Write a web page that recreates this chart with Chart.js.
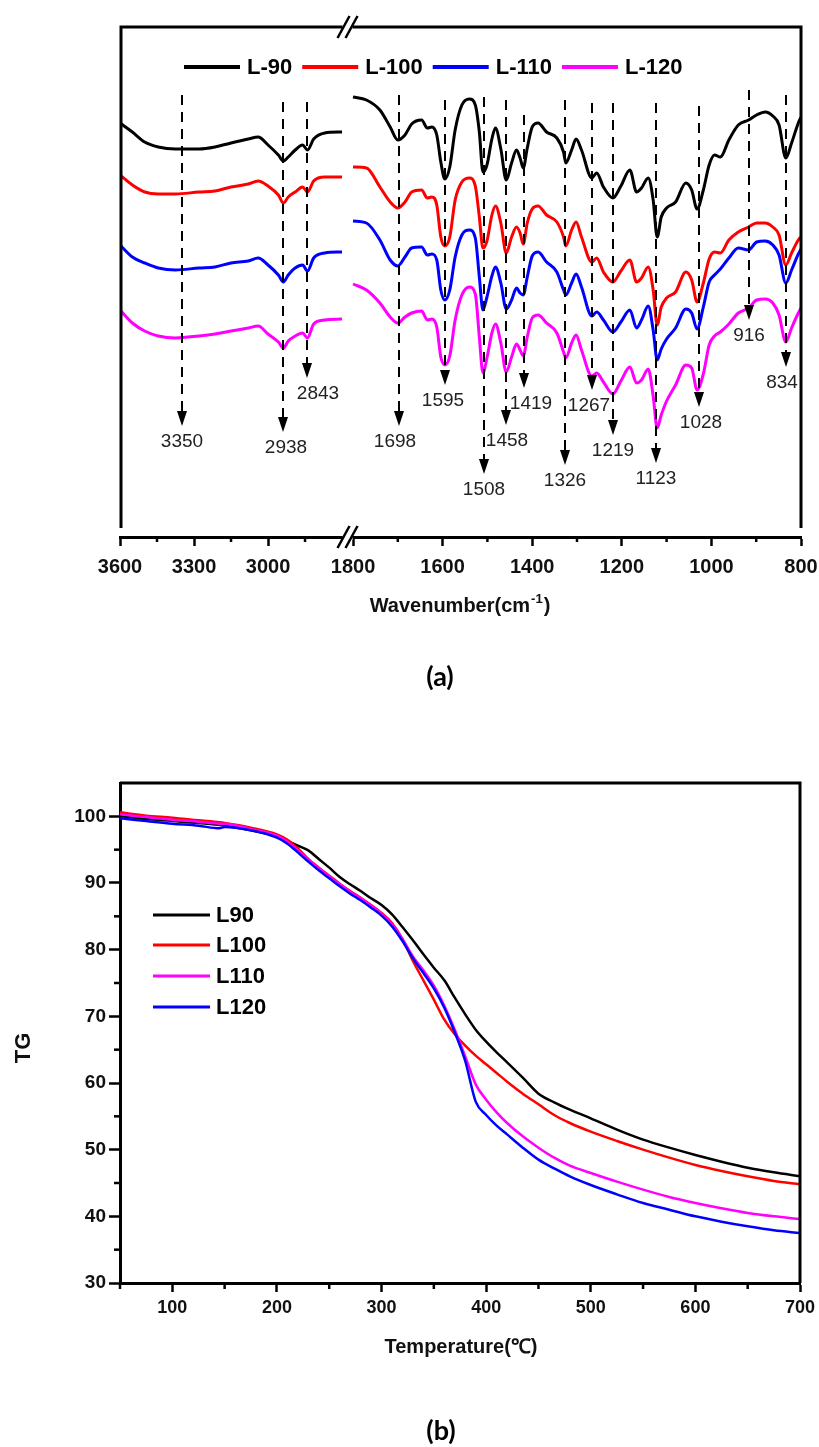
<!DOCTYPE html>
<html>
<head>
<meta charset="utf-8">
<script src="https://cdn.jsdelivr.net/npm/chart.js@4.4.1/dist/chart.umd.min.js"></script>
<style>
  html, body { margin: 0; padding: 0; background: #fff; overflow: hidden; }
  #wrapA { position: absolute; left: 0; top: 0; width: 819px; height: 720px; }
  #wrapB { position: absolute; left: 0; top: 720px; width: 819px; height: 727px; }
</style>
</head>
<body>
<div id="wrapA"><canvas id="ftirChart" width="819" height="720"></canvas></div>
<div id="wrapB"><canvas id="tgChart" width="819" height="727"></canvas></div>
<script>
// ---------- (a) FTIR spectra ----------
const ftirNames = ["L-90", "L-100", "L-110", "L-120"];
const ftirColors = ["#000000", "#ff0000", "#0000ff", "#ff00ff"];

// high wavenumber part (left of the axis break)
const wnHigh = [3600, 3550, 3500, 3445, 3375, 3280, 3215, 3150, 3080, 3040, 3000, 2958, 2938, 2918, 2890, 2860, 2840, 2815, 2770, 2700];
const l90High = [414, 405, 395, 390, 388, 388, 390, 394, 398, 400, 392, 382, 376, 380, 387, 392, 387, 398, 404, 405];
const l100High = [362, 352, 345, 343, 343, 345, 346, 350, 353, 356, 351, 342, 334, 340, 345, 350, 345, 356, 360, 360];
const l110High = [292, 280, 274, 269, 267, 269, 270, 274, 276, 279, 272, 262, 255, 262, 269, 272, 266, 279, 284, 285];
const l120High = [227, 214, 206, 201, 199, 201, 203, 206, 209, 211, 203, 195, 189, 196, 201, 204, 199, 213, 217, 218];

// fingerprint part (right of the axis break)
const wnLow = [1800, 1770, 1740, 1717, 1700, 1684, 1669, 1647, 1634, 1624, 1613, 1604, 1595, 1584, 1572, 1557, 1540, 1527, 1518, 1510,
  1501, 1490, 1482, 1470, 1458, 1446, 1435, 1427, 1420, 1411, 1400, 1387, 1368, 1345, 1330, 1325, 1312, 1302, 1290, 1267,
  1256, 1241, 1220, 1202, 1182, 1167, 1156, 1141, 1130, 1121, 1112, 1100, 1080, 1057, 1044, 1032, 1018, 1005, 993, 980,
  961, 940, 917, 899, 880, 863, 849, 834, 821, 806, 800];
const l90Low = [440, 437, 427, 410, 397, 402, 413, 417, 409, 410, 402, 375, 358, 370, 407, 432, 438, 432, 405, 365,
  372, 398, 409, 388, 357, 374, 387, 379, 369, 389, 410, 414, 405, 399, 385, 374, 387, 398, 387, 359,
  364, 350, 339, 351, 367, 345, 349, 359, 337, 300, 320, 329, 335, 354, 347, 328, 347, 372, 382, 380,
  397, 412, 417, 422, 425, 421, 412, 379, 394, 414, 420];
const l100Low = [370, 369, 350, 335, 329, 335, 345, 347, 339, 340, 332, 300, 291, 300, 337, 355, 359, 351, 320, 289,
  296, 322, 331, 314, 284, 300, 310, 304, 293, 314, 328, 331, 322, 315, 300, 291, 307, 315, 300, 275,
  279, 265, 255, 266, 277, 255, 259, 270, 247, 212, 230, 239, 245, 265, 257, 235, 254, 278, 285, 284,
  297, 305, 310, 314, 314, 310, 302, 272, 284, 297, 300];
const l110Low = [316, 314, 297, 277, 271, 280, 289, 290, 282, 283, 277, 247, 237, 247, 280, 302, 307, 299, 260, 227,
  240, 261, 270, 254, 228, 237, 249, 244, 242, 260, 281, 285, 275, 265, 247, 242, 254, 263, 250, 221,
  225, 217, 205, 215, 227, 209, 217, 231, 207, 177, 188, 198, 209, 228, 224, 208, 230, 255, 262, 268,
  279, 289, 287, 295, 296, 292, 282, 254, 267, 283, 288];
const l120Low = [253, 247, 234, 220, 214, 220, 224, 226, 217, 218, 210, 180, 172, 181, 217, 242, 250, 243, 200, 164,
  179, 204, 213, 194, 165, 180, 193, 187, 181, 200, 219, 222, 214, 204, 185, 179, 194, 202, 187, 161,
  164, 155, 143, 156, 170, 154, 157, 168, 141, 109, 122, 136, 152, 172, 169, 147, 163, 192, 201, 205,
  213, 224, 229, 237, 238, 234, 222, 195, 209, 224, 229];

const ftirTicks = [3600, 3300, 3000, 1800, 1600, 1400, 1200, 1000, 800];
const ftirMinorTicks = [3450, 3150, 2850, 1700, 1500, 1300, 1100, 900];

// marked bands: wavenumber, top of dashed line, arrow tip (same y units as the spectra)
const peakWn = [3350, 2938, 2843, 1698, 1595, 1508, 1458, 1419, 1326, 1267, 1219, 1123, 1028, 916, 834];
const peakTop = [442, 435, 435, 442, 437, 440, 437, 422, 437, 434, 434, 434, 431, 447, 442];
const peakTip = [111, 105, 159, 111, 152, 63, 112, 149, 72, 147, 102, 74, 130, 217, 170];
// small horizontal nudges of the band labels (px)
const peakLabelShift = [0, 3, 11, -4, -2, 0, 1, 7, 0, -3, 0, 0, 2, 0, -4];

// ---------- (b) TG curves ----------
const tgNames = ["L90", "L100", "L110", "L120"];
const tgColors = ["#000000", "#ff0000", "#ff00ff", "#0000ff"];
const tgTemp = [50, 75, 100, 125, 145, 150, 175, 200, 210, 220, 230, 240, 250, 260, 270, 280, 290, 300, 310, 320,
  330, 340, 350, 360, 370, 380, 390, 400, 410, 420, 435, 450, 465, 480, 500, 525, 550, 575, 600, 625, 650, 675, 700];
const tgL90 = [100.0, 99.6, 99.3, 99.0, 98.7, 98.6, 97.9, 97.0, 96.3, 95.6, 94.9, 93.6, 92.3, 90.9, 89.8, 88.8, 87.7, 86.7, 85.3, 83.4,
  81.4, 79.3, 77.3, 75.4, 72.8, 70.3, 68.0, 66.2, 64.6, 63.1, 60.8, 58.4, 57.1, 56.0, 54.7, 53.0, 51.5, 50.3, 49.2, 48.2, 47.3, 46.6, 46.0];
const tgL100 = [100.6, 100.1, 99.8, 99.4, 99.1, 99.0, 98.3, 97.3, 96.5, 95.2, 93.6, 92.3, 91.1, 89.9, 88.8, 87.8, 86.7, 85.5, 84.0, 81.6,
  78.3, 75.4, 72.5, 69.5, 67.3, 65.6, 64.1, 62.8, 61.5, 60.2, 58.4, 56.8, 55.2, 54.0, 52.7, 51.3, 50.0, 48.8, 47.7, 46.8, 46.0, 45.3, 44.8];
const tgL110 = [100.3, 99.9, 99.5, 99.2, 98.9, 98.9, 98.1, 97.1, 96.2, 94.9, 93.5, 92.2, 91.0, 89.8, 88.7, 87.7, 86.6, 85.4, 83.8, 81.6,
  79.0, 76.9, 74.6, 71.6, 68.0, 64.0, 59.8, 57.5, 55.6, 54.0, 52.0, 50.3, 48.8, 47.6, 46.5, 45.2, 44.0, 42.9, 42.0, 41.2, 40.5, 40.0, 39.6];
const tgL120 = [99.7, 99.3, 98.9, 98.6, 98.2, 98.4, 97.9, 96.8, 95.9, 94.6, 93.2, 91.9, 90.7, 89.5, 88.4, 87.4, 86.3, 85.1, 83.5, 81.3,
  78.7, 76.5, 74.2, 71.3, 67.6, 63.3, 57.2, 55.2, 53.6, 52.3, 50.3, 48.5, 47.2, 46.0, 44.7, 43.3, 42.0, 41.0, 40.0, 39.2, 38.5, 37.9, 37.5];
const tgXTicks = [100, 200, 300, 400, 500, 600, 700];
const tgXMinor = [50, 150, 250, 350, 450, 550, 650];
const tgYTicks = [30, 40, 50, 60, 70, 80, 90, 100];
const tgYMinor = [35, 45, 55, 65, 75, 85, 95];

// ---------- helpers ----------
Chart.defaults.font.family = '"Liberation Sans", Arial, sans-serif';
Chart.defaults.color = "#000";

// broken axis: 3600-2700 is compressed, 1800-800 is one unit per cm-1
function toAxis(w) {
  return w > 2000 ? (3600 - w) * 0.5507 : 520.1 + (1800 - w);
}
const breakPos = (toAxis(2700) + toAxis(1800)) / 2;

function spectrum(high, low) {
  const pts = wnHigh.map((w, i) => ({ x: toAxis(w), y: high[i] }));
  pts.push({ x: breakPos, y: null });
  return pts.concat(wnLow.map((w, i) => ({ x: toAxis(w), y: low[i] })));
}

function drawBreak(ctx, x, y) {
  ctx.fillStyle = "#fff";
  ctx.fillRect(x - 5, y - 3, 10, 6);
  ctx.strokeStyle = "#000";
  ctx.lineWidth = 2.5;
  [-4, 4].forEach(d => {
    ctx.beginPath();
    ctx.moveTo(x + d - 6, y + 11);
    ctx.lineTo(x + d + 6, y - 11);
    ctx.stroke();
  });
}

const ftirDecor = {
  id: "ftirDecor",
  afterDatasetsDraw(chart) {
    const { ctx, scales: { x, y } } = chart;
    ctx.save();
    ctx.lineWidth = 2;
    ctx.strokeStyle = "#000";
    peakWn.forEach((w, i) => {
      const px = Math.round(x.getPixelForValue(toAxis(w)));
      const top = y.getPixelForValue(peakTop[i]);
      const tip = y.getPixelForValue(peakTip[i]);
      ctx.setLineDash([10, 7]);
      ctx.beginPath();
      ctx.moveTo(px, top);
      ctx.lineTo(px, tip - 12);
      ctx.stroke();
      ctx.setLineDash([]);
      ctx.fillStyle = "#000";
      ctx.beginPath();
      ctx.moveTo(px - 5, tip - 15);
      ctx.lineTo(px + 5, tip - 15);
      ctx.lineTo(px, tip);
      ctx.closePath();
      ctx.fill();
      ctx.fillStyle = "#222";
      ctx.font = '19px "Liberation Sans"';
      ctx.textAlign = "center";
      ctx.textBaseline = "top";
      ctx.fillText(String(w), px + peakLabelShift[i], tip + 6);
    });
    ctx.restore();
  },
  afterDraw(chart) {
    const { ctx, chartArea: a, scales: { x } } = chart;
    ctx.save();
    // frame
    ctx.strokeStyle = "#000";
    ctx.lineWidth = 3;
    ctx.beginPath();
    ctx.moveTo(a.left + 1, a.bottom - 9);
    ctx.lineTo(a.left + 1, a.top);
    ctx.lineTo(a.right, a.top);
    ctx.lineTo(a.right, a.bottom - 9);
    ctx.stroke();
    // minor ticks
    ctx.lineWidth = 2.5;
    ftirMinorTicks.forEach(w => {
      const px = x.getPixelForValue(toAxis(w));
      ctx.beginPath();
      ctx.moveTo(px, a.bottom);
      ctx.lineTo(px, a.bottom + 5);
      ctx.stroke();
    });
    // axis breaks
    const bx = x.getPixelForValue(breakPos);
    drawBreak(ctx, bx, a.top);
    drawBreak(ctx, bx, a.bottom);
    // legend
    let lx = 184;
    ctx.font = 'bold 22px "Liberation Sans"';
    ctx.textAlign = "left";
    ctx.textBaseline = "middle";
    chart.data.datasets.forEach(ds => {
      ctx.strokeStyle = ds.borderColor;
      ctx.lineWidth = 4;
      ctx.beginPath();
      ctx.moveTo(lx, 67);
      ctx.lineTo(lx + 56, 67);
      ctx.stroke();
      ctx.fillStyle = "#000";
      ctx.fillText(ds.label, lx + 63, 68);
      lx += 63 + ctx.measureText(ds.label).width + 10;
    });
    // axis title with superscript
    ctx.fillStyle = "#111";
    ctx.textBaseline = "alphabetic";
    const main = "Wavenumber(cm", sup = "-1", end = ")";
    ctx.font = 'bold 20px "Liberation Sans"';
    const wMain = ctx.measureText(main).width, wEnd = ctx.measureText(end).width;
    ctx.font = 'bold 13px "Liberation Sans"';
    const wSup = ctx.measureText(sup).width;
    let tx = 460 - (wMain + wSup + wEnd + 2) / 2;
    ctx.font = 'bold 20px "Liberation Sans"';
    ctx.fillText(main, tx, 612);
    ctx.font = 'bold 13px "Liberation Sans"';
    ctx.fillText(sup, tx + wMain + 1, 603);
    ctx.font = 'bold 20px "Liberation Sans"';
    ctx.fillText(end, tx + wMain + wSup + 2, 612);
    // panel label
    ctx.font = 'bold 27px Lato, "Open Sans", sans-serif';
    ctx.textAlign = "center";
    ctx.textBaseline = "middle";
    ctx.fillStyle = "#000";
    ctx.fillText("(a)", 440, 677);
    ctx.restore();
  }
};

const ftirDatasets = [
  [l90High, l90Low], [l100High, l100Low], [l110High, l110Low], [l120High, l120Low]
].map((s, i) => ({
  label: ftirNames[i],
  data: spectrum(s[0], s[1]),
  borderColor: ftirColors[i],
  backgroundColor: ftirColors[i],
  borderWidth: 3,
  pointRadius: 0,
  fill: false,
  spanGaps: false,
  cubicInterpolationMode: "monotone"
}));

new Chart(document.getElementById("ftirChart").getContext("2d"), {
  type: "line",
  data: { datasets: ftirDatasets },
  options: {
    responsive: false,
    animation: false,
    parsing: false,
    layout: { padding: { left: 120, right: 18, top: 27, bottom: 0 } },
    plugins: { legend: { display: false }, tooltip: { enabled: false } },
    scales: {
      x: {
        type: "linear",
        min: 0,
        max: toAxis(800),
        afterBuildTicks: scale => { scale.ticks = ftirTicks.map(w => ({ value: toAxis(w) })); },
        afterFit: scale => { scale.height = 183; },
        ticks: {
          autoSkip: false,
          maxRotation: 0,
          padding: 0,
          color: "#111",
          font: { size: 20, weight: "bold", lineHeight: 2.1 },
          callback: (v, i) => String(ftirTicks[i])
        },
        grid: { drawOnChartArea: false, drawTicks: true, tickLength: 9, tickWidth: 2.5, tickColor: "#000" },
        border: { display: true, color: "#000", width: 3 }
      },
      y: { display: false, min: 0, max: 510 }
    }
  },
  plugins: [ftirDecor]
});

// ---------- (b) ----------
const tgDecor = {
  id: "tgDecor",
  afterDraw(chart) {
    const { ctx, chartArea: a, scales: { x, y } } = chart;
    ctx.save();
    ctx.strokeStyle = "#000";
    ctx.lineWidth = 3;
    ctx.beginPath();
    ctx.moveTo(a.left, a.top);
    ctx.lineTo(a.right, a.top);
    ctx.lineTo(a.right, a.bottom);
    ctx.stroke();
    ctx.lineWidth = 2.5;
    tgXMinor.forEach(v => {
      const px = x.getPixelForValue(v);
      ctx.beginPath();
      ctx.moveTo(px, a.bottom);
      ctx.lineTo(px, a.bottom + 6);
      ctx.stroke();
    });
    tgYMinor.forEach(v => {
      const py = y.getPixelForValue(v);
      ctx.beginPath();
      ctx.moveTo(a.left, py);
      ctx.lineTo(a.left - 6, py);
      ctx.stroke();
    });
    // legend
    ctx.font = 'bold 22px "Liberation Sans"';
    ctx.textAlign = "left";
    ctx.textBaseline = "middle";
    const rows = [195, 225, 256, 287];
    tgNames.forEach((name, i) => {
      ctx.strokeStyle = tgColors[i];
      ctx.lineWidth = 3;
      ctx.beginPath();
      ctx.moveTo(153, rows[i]);
      ctx.lineTo(210, rows[i]);
      ctx.stroke();
      ctx.fillStyle = "#000";
      ctx.fillText(name, 216, rows[i] + 1);
    });
    // axis titles
    ctx.fillStyle = "#111";
    ctx.textAlign = "center";
    ctx.font = 'bold 20px "Liberation Sans"';
    ctx.fillText("Temperature(℃)", 461, 627);
    ctx.save();
    ctx.translate(24, 328);
    ctx.rotate(-Math.PI / 2);
    ctx.font = 'bold 22px "Liberation Sans"';
    ctx.fillText("TG", 0, 0);
    ctx.restore();
    ctx.font = 'bold 27px Lato, "Open Sans", sans-serif';
    ctx.fillStyle = "#000";
    ctx.fillText("(b)", 441, 711);
    ctx.restore();
  }
};

const tgSeries = [tgL90, tgL100, tgL110, tgL120];
new Chart(document.getElementById("tgChart").getContext("2d"), {
  type: "line",
  data: {
    datasets: tgSeries.map((vals, i) => ({
      label: tgNames[i],
      data: tgTemp.map((t, j) => ({ x: t, y: vals[j] })),
      borderColor: tgColors[i],
      backgroundColor: tgColors[i],
      borderWidth: 2.5,
      pointRadius: 0,
      fill: false,
      order: 3 - i,
      cubicInterpolationMode: "monotone"
    }))
  },
  options: {
    responsive: false,
    animation: false,
    parsing: false,
    layout: { padding: { left: 0, right: 19, top: 63, bottom: 0 } },
    plugins: { legend: { display: false }, tooltip: { enabled: false } },
    scales: {
      x: {
        type: "linear",
        min: 50,
        max: 700,
        afterBuildTicks: scale => { scale.ticks = tgXTicks.map(v => ({ value: v })); },
        afterFit: scale => { scale.height = 164; },
        ticks: { autoSkip: false, maxRotation: 0, padding: 0, color: "#111", font: { size: 18, weight: "bold", lineHeight: 1.78 } },
        grid: { drawOnChartArea: false, drawTicks: true, tickLength: 9, tickWidth: 2.5, tickColor: "#000" },
        border: { display: true, color: "#000", width: 3 }
      },
      y: {
        type: "linear",
        min: 30,
        max: 105,
        afterBuildTicks: scale => { scale.ticks = tgYTicks.map(v => ({ value: v })); },
        afterFit: scale => { scale.width = 120; },
        ticks: { autoSkip: false, padding: 3, color: "#111", font: { size: 19, weight: "bold" } },
        grid: { drawOnChartArea: false, drawTicks: true, tickLength: 11, tickWidth: 2.5, tickColor: "#000" },
        border: { display: true, color: "#000", width: 3 }
      }
    }
  },
  plugins: [tgDecor]
});
</script>
</body>
</html>
